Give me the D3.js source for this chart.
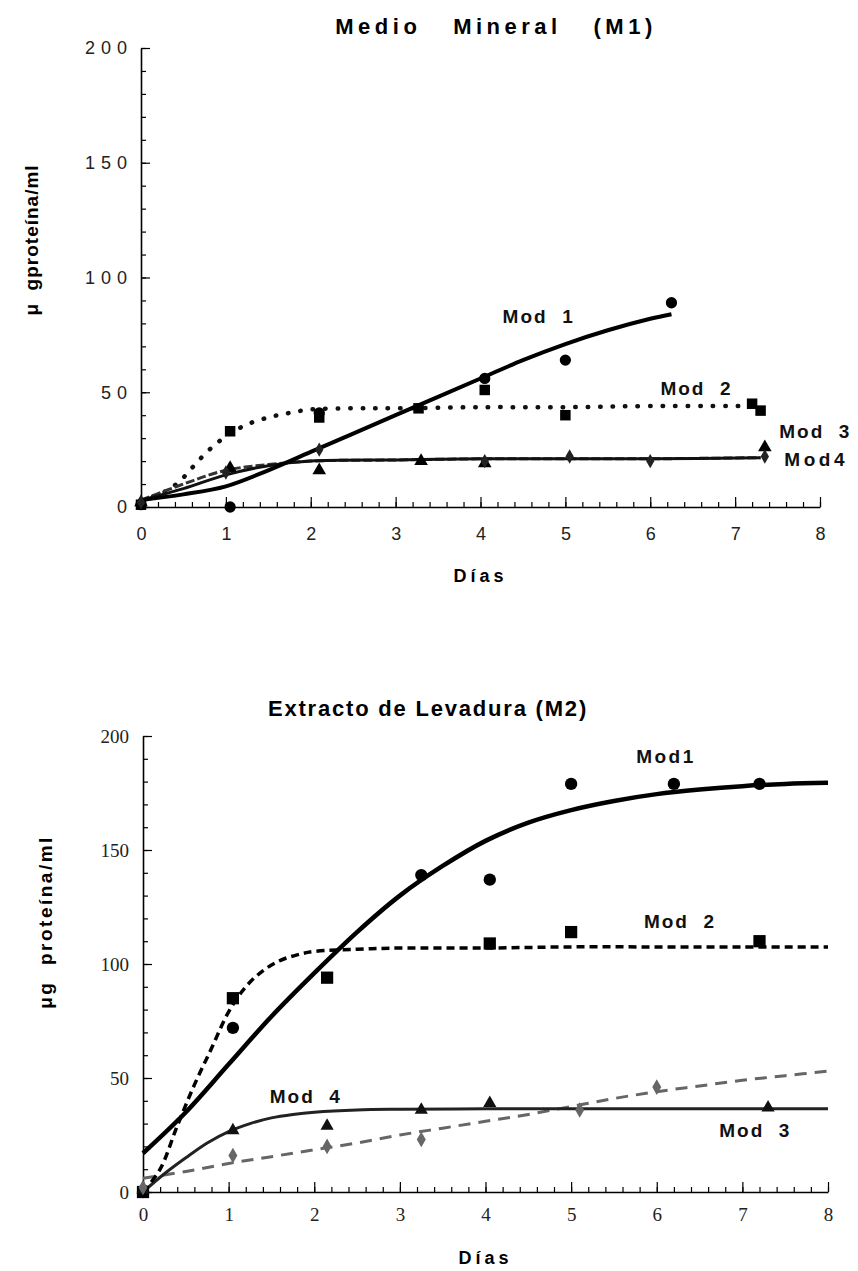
<!DOCTYPE html>
<html>
<head>
<meta charset="utf-8">
<script src="https://cdn.jsdelivr.net/npm/d3@7"></script>
<style>
	body { margin: 0; background: #fff; }
	svg { display: block; }
	text { white-space: pre; }
</style>
</head>
<body>
<svg id="chart"></svg>
<script>
// ---- Medio Mineral (M1), points as [day, value] ----
let m1Circles = [[0, 1], [1.05, 0], [2.1, 41], [4.05, 56], [5.0, 64], [6.25, 89]];
let m1Squares = [[0, 1], [1.05, 33], [2.1, 39], [3.27, 43], [4.05, 51], [5.0, 40], [7.2, 45], [7.3, 42]];
let m1Triangles = [[0, 2], [1.05, 17], [2.1, 16], [3.3, 20], [4.05, 19], [7.35, 26]];
let m1Diamonds = [[0, 2], [1.0, 15], [2.1, 25], [4.05, 20], [5.05, 22], [6.0, 20], [7.35, 22]];

let m1Mod1 = [[0, 3], [0.5, 5.5], [1, 9], [1.5, 16], [2, 24], [2.5, 32], [3, 40], [3.5, 48], [4, 56], [4.5, 64], [5, 71], [5.5, 77], [6, 82], [6.25, 84]];
let m1Mod2 = [[0, 3], [0.25, 6], [0.45, 11], [0.6, 17], [0.75, 23], [0.9, 28], [1.05, 32], [1.25, 36], [1.5, 39], [1.75, 41], [2, 42.5], [2.5, 43], [3, 43], [4, 43.5], [5, 43.5], [6, 44], [7.2, 44]];
let m1Mod3 = [[0, 3], [0.5, 10], [1, 16], [1.5, 18.5], [2, 20], [3, 20.5], [4, 21], [5, 21], [6, 21], [7.3, 21.5]];
let m1Mod4 = [[0, 3], [0.5, 8], [1, 14], [1.5, 18], [2, 20], [3, 20.5], [4, 21], [5, 21], [6, 21], [7.3, 21.5]];

// ---- Extracto de Levadura (M2) ----
let m2Circles = [[0, 0], [1.05, 72], [3.25, 139], [4.05, 137], [5.0, 179], [6.2, 179], [7.2, 179]];
let m2Squares = [[0, 0], [1.05, 85], [2.15, 94], [4.05, 109], [5.0, 114], [7.2, 110]];
let m2Triangles = [[0, 1], [1.05, 27], [2.15, 29], [3.25, 36], [4.05, 39], [7.3, 37]];
let m2Diamonds = [[0, 2], [1.05, 16], [2.15, 20], [3.25, 23], [5.1, 36], [6.0, 46]];

let m2Mod1 = [[0, 17], [0.5, 35], [1, 56], [1.5, 77], [2, 96], [2.5, 114], [3, 130], [3.5, 143], [4, 154], [4.5, 162], [5, 167.5], [5.5, 171.5], [6, 174.5], [6.5, 176.5], [7, 178], [7.5, 179], [8, 179.5]];
let m2Mod2 = [[0, 0], [0.2, 10], [0.4, 29], [0.6, 47], [0.8, 63], [1, 79], [1.2, 90], [1.4, 97], [1.6, 101.5], [1.8, 104], [2, 105.5], [2.5, 106.5], [3, 107], [4, 107], [5, 107.5], [6, 107.5], [7, 107.5], [8, 107.5]];
let m2Mod3 = [[0, 6], [0.5, 9], [1, 12.5], [1.5, 15.5], [2, 18.5], [2.5, 21.5], [3, 25], [3.5, 28], [4, 31], [4.5, 34], [5, 37.5], [5.5, 41], [6, 44], [6.5, 46.5], [7, 49], [7.5, 51], [8, 53]];
let m2Mod4 = [[0, 0], [0.25, 8], [0.5, 15], [0.75, 21.5], [1, 26.5], [1.25, 30], [1.5, 32.5], [1.75, 34], [2, 35], [2.5, 36], [3, 36.3], [4, 36.5], [5, 36.5], [6, 36.5], [7, 36.5], [8, 36.5]];

let xTicks = [0, 1, 2, 3, 4, 5, 6, 7, 8];
let yTicks = [0, 50, 100, 150, 200];

let svg = d3.select("#chart")
	.attr("width", 858)
	.attr("height", 1271)
	.attr("font-family", "'Liberation Sans', Arial, sans-serif");

function drawPanel(cfg)
{
	let x = d3.scaleLinear().domain([0, 8]).range([cfg.left, cfg.right]);
	let y = d3.scaleLinear().domain([0, 200]).range([cfg.bottom, cfg.top]);
	let g = svg.append("g");

	//minor ticks
	g.append("g")
		.attr("transform", "translate(" + cfg.left + ",0)")
		.call(d3.axisLeft(y).tickValues(d3.range(0, 201, 10)).tickSize(-5).tickFormat(""))
		.call(a => a.select(".domain").remove());
	g.append("g")
		.attr("transform", "translate(0," + cfg.bottom + ")")
		.call(d3.axisBottom(x).tickValues(d3.range(0, 41).map(d => d / 5)).tickSize(-5).tickFormat(""))
		.call(a => a.select(".domain").remove());

	//y axis
	let ya = g.append("g")
		.attr("transform", "translate(" + cfg.left + ",0)")
		.call(d3.axisLeft(y).tickValues(yTicks).tickSize(-9).tickSizeOuter(0).tickPadding(cfg.yPad));
	ya.selectAll("text")
		.attr("font-family", cfg.tickFont)
		.attr("font-size", cfg.tickSize)
		.attr("letter-spacing", cfg.tickSpacing)
		.attr("fill", "#222");

	//x axis
	let xa = g.append("g")
		.attr("transform", "translate(0," + cfg.bottom + ")")
		.call(d3.axisBottom(x).tickValues(xTicks).tickSize(-10).tickSizeOuter(0).tickPadding(cfg.xPad));
	xa.selectAll("text")
		.attr("font-family", cfg.tickFont)
		.attr("font-size", cfg.tickSize)
		.attr("fill", "#222");

	g.selectAll(".domain").attr("stroke-width", 1.6);
	g.selectAll(".tick line").attr("stroke-width", 1.2);

	let line = d3.line()
		.x(d => x(d[0]))
		.y(d => y(d[1]))
		.curve(d3.curveCatmullRom.alpha(0.5));

	for (let i = 0; i < cfg.lines.length; i++)
	{
		let l = cfg.lines[i];
		g.append("path")
			.datum(l.data)
			.attr("fill", "none")
			.attr("stroke", l.color)
			.attr("stroke-width", l.width)
			.attr("stroke-dasharray", l.dash)
			.attr("stroke-linecap", l.cap || "butt")
			.attr("d", line);
	}

	for (let i = 0; i < cfg.marks.length; i++)
	{
		let m = cfg.marks[i];
		g.selectAll(null)
			.data(m.data)
			.enter()
			.append("path")
			.attr("transform", d => "translate(" + x(d[0]) + "," + y(d[1]) + ")")
			.attr("d", d3.symbol().type(m.type).size(m.size))
			.attr("fill", m.color);
	}

	for (let i = 0; i < cfg.labels.length; i++)
	{
		let t = cfg.labels[i];
		g.append("text")
			.attr("x", x(t.day))
			.attr("y", y(t.val))
			.attr("font-size", 19)
			.attr("font-weight", "bold")
			.attr("letter-spacing", t.ls)
			.attr("fill", "#111")
			.text(t.text);
	}

	g.append("text")
		.attr("x", cfg.titleX)
		.attr("y", cfg.titleY)
		.attr("text-anchor", "middle")
		.attr("font-size", cfg.titleSize)
		.attr("font-weight", "bold")
		.attr("letter-spacing", cfg.titleSpacing)
		.text(cfg.title);

	g.append("text")
		.attr("x", (cfg.left + cfg.right) / 2)
		.attr("y", cfg.xLabelY)
		.attr("text-anchor", "middle")
		.attr("font-size", 18)
		.attr("font-weight", "bold")
		.attr("letter-spacing", 4)
		.text("Días");

	g.append("text")
		.attr("transform", "translate(" + cfg.yLabelX + "," + cfg.yLabelY + ") rotate(-90)")
		.attr("text-anchor", "middle")
		.attr("font-size", 19)
		.attr("font-weight", "bold")
		.attr("letter-spacing", cfg.yLabelSpacing)
		.text(cfg.yLabel);
}

drawPanel({
	left: 141, right: 820, top: 48, bottom: 507,
	tickFont: "'Liberation Sans', Arial, sans-serif", tickSize: 18, tickSpacing: 6, yPad: 8, xPad: 20,
	title: "Medio   Mineral   (M1)", titleX: 496, titleY: 34, titleSize: 22, titleSpacing: 4.5,
	xLabelY: 582, yLabel: "μ  gproteína/ml", yLabelX: 38, yLabelY: 240, yLabelSpacing: 1,
	lines: [
		{ data: m1Mod2, color: "#111", width: 4.5, dash: "0.5,12", cap: "round" },
		{ data: m1Mod3, color: "#333", width: 3, dash: "9,3" },
		{ data: m1Mod4, color: "#111", width: 3, dash: null },
		{ data: m1Mod1, color: "#000", width: 4, dash: null }
	],
	marks: [
		{ data: m1Circles, type: d3.symbolCircle, size: 100, color: "#000" },
		{ data: m1Squares, type: d3.symbolSquare, size: 110, color: "#000" },
		{ data: m1Triangles, type: d3.symbolTriangle, size: 80, color: "#000" },
		{ data: m1Diamonds, type: d3.symbolDiamond, size: 60, color: "#222" }
	],
	labels: [
		{ text: "Mod  1", day: 4.26, val: 80, ls: 2 },
		{ text: "Mod  2", day: 6.12, val: 49, ls: 2 },
		{ text: "Mod  3", day: 7.52, val: 30, ls: 2 },
		{ text: "Mod4", day: 7.58, val: 18, ls: 3.5 }
	]
});

drawPanel({
	left: 143, right: 828, top: 736, bottom: 1192,
	tickFont: "'Liberation Serif', 'Times New Roman', serif", tickSize: 19, tickSpacing: 0, yPad: 14, xPad: 16,
	title: "Extracto de Levadura (M2)", titleX: 428, titleY: 716, titleSize: 22, titleSpacing: 1.8,
	xLabelY: 1264, yLabel: "μg  proteína/ml", yLabelX: 52, yLabelY: 922, yLabelSpacing: 2.5,
	lines: [
		{ data: m2Mod3, color: "#666", width: 3, dash: "12,8" },
		{ data: m2Mod4, color: "#222", width: 3, dash: null },
		{ data: m2Mod2, color: "#000", width: 3.5, dash: "8,5" },
		{ data: m2Mod1, color: "#000", width: 4.5, dash: null }
	],
	marks: [
		{ data: m2Circles, type: d3.symbolCircle, size: 120, color: "#000" },
		{ data: m2Squares, type: d3.symbolSquare, size: 150, color: "#000" },
		{ data: m2Triangles, type: d3.symbolTriangle, size: 75, color: "#111" },
		{ data: m2Diamonds, type: d3.symbolDiamond, size: 70, color: "#666" }
	],
	labels: [
		{ text: "Mod1", day: 5.76, val: 188, ls: 2.5 },
		{ text: "Mod  2", day: 5.85, val: 116, ls: 2 },
		{ text: "Mod  4", day: 1.48, val: 39, ls: 2 },
		{ text: "Mod  3", day: 6.73, val: 24, ls: 2 }
	]
});
</script>
</body>
</html>
